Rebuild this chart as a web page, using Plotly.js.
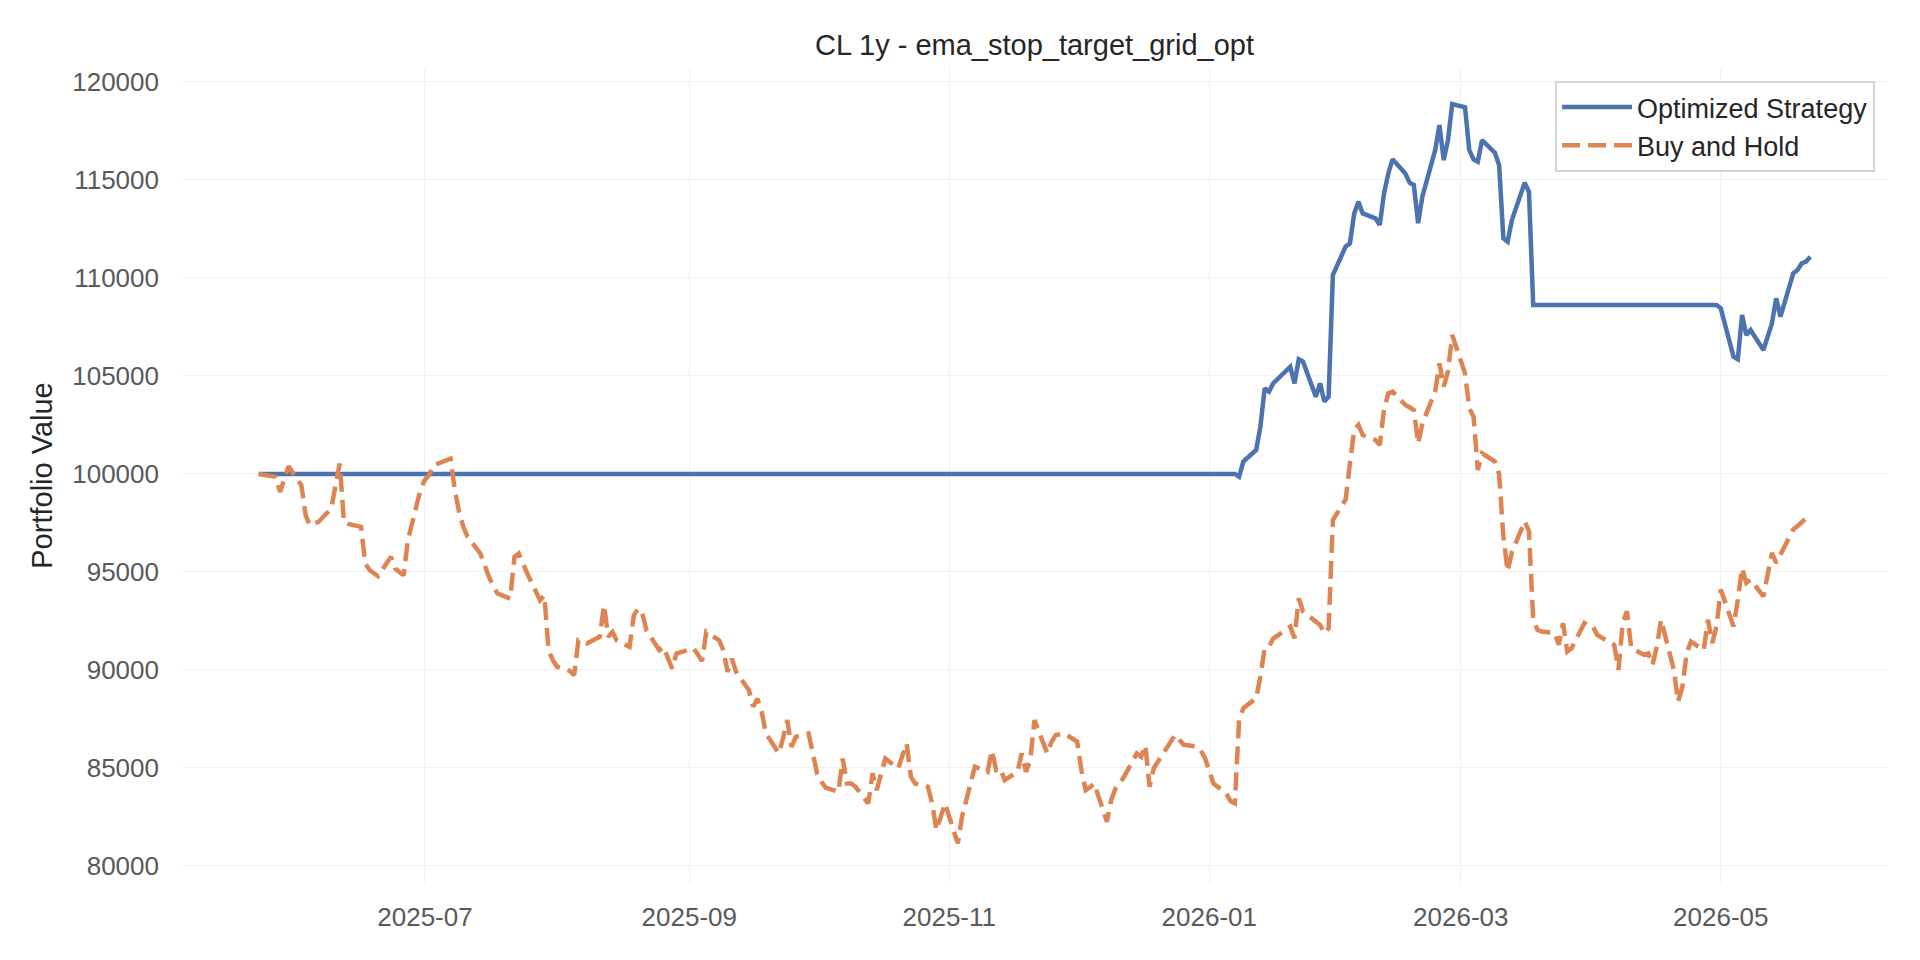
<!DOCTYPE html>
<html>
<head>
<meta charset="utf-8">
<script src="https://cdn.plot.ly/plotly-3.0.1.min.js"></script>
<style>
  html, body { margin: 0; padding: 0; background: #ffffff; }
  #chart { width: 1920px; height: 960px; }
</style>
</head>
<body>
<div id="chart"></div>
<script>
// Buy and Hold equity (one value per trading day shown)
const bhDates = [
  '2025-05-23','2025-05-27','2025-05-28','2025-05-29','2025-05-30','2025-06-02','2025-06-03','2025-06-04','2025-06-05','2025-06-06',
  '2025-06-09','2025-06-10','2025-06-11','2025-06-12','2025-06-13','2025-06-16','2025-06-17','2025-06-18','2025-06-20','2025-06-23',
  '2025-06-24','2025-06-25','2025-06-26','2025-06-27','2025-06-30','2025-07-01','2025-07-02','2025-07-03','2025-07-07','2025-07-08',
  '2025-07-09','2025-07-10','2025-07-11','2025-07-14','2025-07-15','2025-07-16','2025-07-17','2025-07-18','2025-07-21','2025-07-22',
  '2025-07-23','2025-07-24','2025-07-25','2025-07-28','2025-07-29','2025-07-30','2025-07-31','2025-08-01','2025-08-04','2025-08-05',
  '2025-08-06','2025-08-07','2025-08-08','2025-08-11','2025-08-12','2025-08-13','2025-08-14','2025-08-15','2025-08-18','2025-08-19',
  '2025-08-20','2025-08-21','2025-08-22','2025-08-25','2025-08-26','2025-08-27','2025-08-28','2025-08-29','2025-09-02','2025-09-03',
  '2025-09-04','2025-09-05','2025-09-08','2025-09-09','2025-09-10','2025-09-11','2025-09-12','2025-09-15','2025-09-16','2025-09-17',
  '2025-09-18','2025-09-19','2025-09-22','2025-09-23','2025-09-24','2025-09-25','2025-09-26','2025-09-29','2025-09-30','2025-10-01',
  '2025-10-02','2025-10-03','2025-10-06','2025-10-07','2025-10-08','2025-10-09','2025-10-10','2025-10-13','2025-10-14','2025-10-15',
  '2025-10-16','2025-10-17','2025-10-20','2025-10-21','2025-10-22','2025-10-23','2025-10-24','2025-10-27','2025-10-28','2025-10-29',
  '2025-10-30','2025-10-31','2025-11-03','2025-11-04','2025-11-05','2025-11-06','2025-11-07','2025-11-10','2025-11-11','2025-11-12',
  '2025-11-13','2025-11-14','2025-11-17','2025-11-18','2025-11-19','2025-11-20','2025-11-21','2025-11-24','2025-11-25','2025-11-26',
  '2025-11-28','2025-12-01','2025-12-02','2025-12-03','2025-12-04','2025-12-05','2025-12-08','2025-12-09','2025-12-10','2025-12-11',
  '2025-12-12','2025-12-15','2025-12-16','2025-12-17','2025-12-18','2025-12-19','2025-12-22','2025-12-23','2025-12-24','2025-12-26',
  '2025-12-29','2025-12-30','2025-12-31','2026-01-02','2026-01-05','2026-01-06','2026-01-07','2026-01-08','2026-01-09','2026-01-12',
  '2026-01-13','2026-01-14','2026-01-15','2026-01-16','2026-01-20','2026-01-21','2026-01-22','2026-01-23','2026-01-26','2026-01-27',
  '2026-01-28','2026-01-29','2026-01-30','2026-02-02','2026-02-03','2026-02-04','2026-02-05','2026-02-06','2026-02-09','2026-02-10',
  '2026-02-11','2026-02-12','2026-02-13','2026-02-16','2026-02-17','2026-02-18','2026-02-19','2026-02-20','2026-02-23','2026-02-24',
  '2026-02-25','2026-02-26','2026-02-27','2026-03-02','2026-03-03','2026-03-04','2026-03-05','2026-03-06','2026-03-09','2026-03-10',
  '2026-03-11','2026-03-12','2026-03-13','2026-03-16','2026-03-17','2026-03-18','2026-03-19','2026-03-20','2026-03-23','2026-03-24',
  '2026-03-25','2026-03-26','2026-03-27','2026-03-30','2026-03-31','2026-04-01','2026-04-02','2026-04-06','2026-04-07','2026-04-08',
  '2026-04-09','2026-04-10','2026-04-13','2026-04-14','2026-04-15','2026-04-16','2026-04-17','2026-04-20','2026-04-21','2026-04-22',
  '2026-04-23','2026-04-24','2026-04-27','2026-04-28','2026-04-29','2026-04-30','2026-05-01','2026-05-04','2026-05-05','2026-05-06',
  '2026-05-07','2026-05-08','2026-05-11','2026-05-12','2026-05-13','2026-05-14','2026-05-15','2026-05-18','2026-05-19','2026-05-20',
  '2026-05-21','2026-05-22'
];
const bhValues = [
  100000, 99850, 99080, 99700, 100390, 99420, 97900, 97380, 97450, 97550,
  98230, 99340, 100530, 97550, 97450, 97300, 95430, 95100, 94780, 95770,
  95170, 95000, 94830, 96620, 99250, 99700, 99950, 100440, 100780, 99170,
  98060, 97300, 96790, 95940, 95300, 94750, 94300, 93900, 93640, 95770,
  95940, 95400, 94920, 93560, 93810, 91010, 90500, 90160, 89950, 89730,
  91520, 91450, 91350, 91690, 93300, 91690, 91940, 91500, 91180, 92790,
  93130, 92880, 92000, 91010, 91180, 90600, 90070, 90840, 91100, 90800,
  90450, 91940, 91520, 91010, 89900, 90580, 89900, 88970, 88120, 88540,
  87860, 86760, 85740, 86500, 87440, 86080, 86590, 86760, 85700, 84720,
  84300, 84000, 83780, 85480, 84210, 84210, 84040, 83190, 84720, 83870,
  84700, 85480, 84970, 85600, 86250, 84550, 84210, 84040, 83190, 81830,
  82500, 83190, 81150, 82510, 83360, 84200, 85060, 84800, 85900, 84890,
  84970, 84380, 84800, 85740, 84800, 85400, 87440, 85740, 86340, 86680,
  86760, 86340, 84890, 83870, 84000, 84210, 82250, 83360, 83950, 84200,
  84550, 85740, 85570, 86160, 84040, 85000, 86000, 86430, 86690, 86180,
  86090, 85900, 85500, 84200, 83700, 83300, 83200, 87450, 88050, 88560,
  89660, 91110, 91190, 91600, 92210, 91620, 93660, 92980, 92470, 92300,
  91870, 92130, 97650, 98700, 100540, 102240, 102500, 101990, 101730, 101480,
  103260, 104110, 104200, 103520, 103400, 103260, 101560, 102580, 104200, 105640,
  104450, 105220, 107090, 105130, 103350, 102920, 100200, 101050, 100630, 100000,
  96800, 95030, 96000, 97590, 97080, 92560, 92050, 91960, 91880, 91280,
  92390, 90940, 91110, 92390, 92220, 92220, 91790, 91280, 90000, 92390,
  92990, 91110, 90770, 90850, 90260, 91190, 92560, 90000, 88380, 89150,
  90850, 91450, 91000, 92560, 91370, 92220, 94100, 92220, 93580, 95200,
  94440, 94610, 93750, 94950, 95970, 95460, 95900, 97170, 97340, 97550,
  97750, 97930
];

// Optimized strategy equity: flat in cash until early January 2026
const stratDates = [
  '2025-05-23','2026-01-07','2026-01-08','2026-01-09','2026-01-12','2026-01-13','2026-01-14','2026-01-15','2026-01-16','2026-01-20',
  '2026-01-21','2026-01-22','2026-01-23','2026-01-26','2026-01-27','2026-01-28','2026-01-29','2026-01-30','2026-02-02','2026-02-03',
  '2026-02-04','2026-02-05','2026-02-06','2026-02-09','2026-02-10','2026-02-11','2026-02-12','2026-02-13','2026-02-16','2026-02-17',
  '2026-02-18','2026-02-19','2026-02-20','2026-02-23','2026-02-24','2026-02-25','2026-02-26','2026-02-27','2026-03-02','2026-03-03',
  '2026-03-04','2026-03-05','2026-03-06','2026-03-09','2026-03-10','2026-03-11','2026-03-12','2026-03-13','2026-03-16','2026-03-17',
  '2026-03-18','2026-04-30','2026-05-01','2026-05-04','2026-05-05','2026-05-06','2026-05-07','2026-05-08','2026-05-11','2026-05-12',
  '2026-05-13','2026-05-14','2026-05-15','2026-05-18','2026-05-19','2026-05-20','2026-05-21','2026-05-22'
];
const stratValues = [
  100000, 100000, 99860, 100630, 101220, 102410, 104370, 104200, 104620, 105470,
  104620, 105850, 105730, 103940, 104620, 103690, 103940, 110150, 111600, 111760,
  113290, 113890, 113290, 113040, 112700, 114310, 115330, 116050, 115330, 114860,
  114740, 112790, 114150, 116520, 117800, 116010, 117030, 118870, 118700, 116520,
  116050, 115930, 117030, 116390, 115760, 112020, 111850, 112950, 114860, 114400,
  108620, 108620, 108450, 105980, 105850, 108110, 107090, 107340, 106320, 107090,
  107680, 108960, 108020, 110230, 110400, 110740, 110830, 111080
];

const seriesNames = ['Optimized Strategy', 'Buy and Hold'];
const chartTitle = 'CL 1y - ema_stop_target_grid_opt';
const yLabel = 'Portfolio Value';

function renderEquity() {
    const el = document.getElementById('chart');
    const font = 'Liberation Sans, Arial, Helvetica, sans-serif';

    const strat = {
        type: 'scatter',
        mode: 'lines',
        x: stratDates,
        y: stratValues,
        name: seriesNames[0],
        line: { color: '#4c72b0', width: 4.5 }
    };

    const hold = {
        type: 'scatter',
        mode: 'lines',
        x: bhDates,
        y: bhValues,
        name: seriesNames[1],
        line: { color: '#dd8452', width: 4.5, dash: '18px,8px' }
    };

    const layout = {
        width: 1920,
        height: 960,
        paper_bgcolor: '#ffffff',
        plot_bgcolor: '#ffffff',
        font: { family: font, color: '#262626' },
        margin: { l: 182, r: 33, t: 68, b: 77 },
        title: {
            text: chartTitle,
            font: { family: font, size: 29, color: '#262626' },
            x: 0.5, xref: 'paper', xanchor: 'center',
            y: 1 - 45 / 960, yref: 'container', yanchor: 'middle'
        },
        xaxis: {
            type: 'date',
            range: ['2025-05-05', '2026-06-09'],
            tick0: '2025-07-01',
            dtick: 'M2',
            tickformat: '%Y-%m',
            tickfont: { family: font, size: 26, color: '#595959' },
            ticks: '',
            ticklabelstandoff: 16,
            showgrid: true,
            gridcolor: '#f1f1f1',
            gridwidth: 1.3,
            showline: false,
            zeroline: false
        },
        yaxis: {
            range: [79130, 120710],
            tick0: 80000,
            dtick: 5000,
            tickformat: 'd',
            tickfont: { family: font, size: 26, color: '#595959' },
            ticks: '',
            ticklabelstandoff: 22,
            showgrid: true,
            gridcolor: '#f1f1f1',
            gridwidth: 1.3,
            showline: false,
            zeroline: false,
            title: {
                text: yLabel,
                font: { family: font, size: 29, color: '#262626' },
                standoff: 11
            }
        },
        showlegend: true,
        legend: {
            x: 0.993, xanchor: 'right',
            y: 0.984, yanchor: 'top',
            bgcolor: '#ffffff',
            bordercolor: '#d4d4d4',
            borderwidth: 2,
            itemwidth: 70,
            font: { family: font, size: 27, color: '#262626' },
            tracegroupgap: 0
        }
    };

    Plotly.newPlot(el, [strat, hold], layout, { displayModeBar: false, responsive: false });
}

renderEquity();
</script>
</body>
</html>
